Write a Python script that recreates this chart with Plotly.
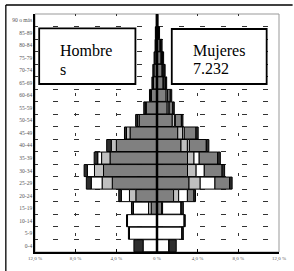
import plotly.graph_objects as go

# ---- data (values in % of total population) ----
ages = ["90 o más", "85-89", "80-84", "75-79", "70-74", "65-69", "60-64", "55-59",
        "50-54", "45-49", "40-44", "35-39", "30-34", "25-29", "20-24", "15-19",
        "10-14", "5-9", "0-4"]

# Hombres (left side), segments from centre outwards
h_s1 = [0.04, 0.10, 0.12, 0.20, 0.30, 0.35, 0.55, 1.05, 1.75, 2.65, 4.00, 4.62, 5.26, 4.40, 2.08, 0.57, 0.00, 0.00, 0.00]
h_s2 = [0.00, 0.00, 0.00, 0.00, 0.00, 0.05, 0.07, 0.10, 0.15, 0.35, 0.50, 0.83, 0.89, 1.00, 0.63, 0.26, 0.00, 0.00, 0.00]
h_s3 = [0.00, 0.00, 0.00, 0.00, 0.00, 0.00, 0.00, 0.00, 0.00, 0.00, 0.00, 0.38, 0.70, 1.07, 0.80, 1.49, 2.90, 2.71, 1.37]
h_s4 = [0.00, 0.00, 0.00, 0.00, 0.00, 0.00, 0.00, 0.00, 0.00, 0.00, 0.00, 0.00, 0.00, 0.00, 0.00, 0.00, 0.00, 0.00, 0.00]
h_s5 = [0.03, 0.06, 0.07, 0.09, 0.11, 0.10, 0.12, 0.15, 0.20, 0.20, 0.45, 0.35, 0.32, 0.48, 0.25, 0.19, 0.10, 0.10, 0.90]

# Mujeres (right side)
m_s1 = [0.05, 0.15, 0.30, 0.40, 0.50, 0.60, 0.90, 1.00, 1.50, 2.04, 2.36, 3.00, 3.00, 3.15, 1.63, 0.45, 0.00, 0.00, 0.00]
m_s2 = [0.00, 0.00, 0.05, 0.05, 0.10, 0.10, 0.15, 0.20, 0.25, 0.48, 0.63, 0.64, 0.85, 1.10, 0.50, 0.10, 0.00, 0.00, 0.00]
m_s3 = [0.00, 0.00, 0.00, 0.00, 0.00, 0.00, 0.00, 0.00, 0.05, 0.16, 0.19, 0.51, 0.80, 1.45, 0.86, 1.82, 2.68, 2.46, 1.18]
m_s4 = [0.00, 0.00, 0.05, 0.10, 0.10, 0.15, 0.25, 0.35, 0.60, 1.15, 1.67, 1.82, 1.75, 1.45, 0.64, 0.00, 0.00, 0.00, 0.00]
m_s5 = [0.05, 0.10, 0.10, 0.10, 0.10, 0.10, 0.15, 0.15, 0.15, 0.22, 0.25, 0.26, 0.25, 0.24, 0.16, 0.22, 0.10, 0.13, 0.71]

x_ticks = [-12, -8, -4, 0, 4, 8, 12]
x_tick_labels = ["12,0 %", "8,0 %", "4,0 %", "0 %", "4,0 %", "8,0 %", "12,0 %"]

label_h = ["Hombre", "s"]
label_m = ["Mujeres", "7.232"]

seg_colors = ["#808080", "#c0c0c0", "#ffffff", "#808080", "#2e2e2e"]
SERIF = "Liberation Serif, Times New Roman, serif"

fig = go.Figure()
for vals, col in zip([h_s1, h_s2, h_s3, h_s4, h_s5], seg_colors):
    fig.add_trace(go.Bar(y=ages, x=[-v for v in vals], orientation="h",
                         marker=dict(color=col, line=dict(color="black", width=1)),
                         showlegend=False, hoverinfo="skip"))
for vals, col in zip([m_s1, m_s2, m_s3, m_s4, m_s5], seg_colors):
    fig.add_trace(go.Bar(y=ages, x=vals, orientation="h",
                         marker=dict(color=col, line=dict(color="black", width=1)),
                         showlegend=False, hoverinfo="skip"))

L, R, T, B = 35, 8, 14, 19
W, H = 294, 271
pw, ph = W - L - R, H - T - B

def px(xp):
    return (xp - L) / pw

def py(yp):
    return (H - B - yp) / ph

fig.update_layout(
    width=W, height=H, autosize=False,
    margin=dict(l=L, r=R, t=T, b=B, pad=0),
    paper_bgcolor="white", plot_bgcolor="white",
    font=dict(family=SERIF),
    barmode="relative", bargap=0.04,
    xaxis=dict(range=[-12, 12], tickvals=x_ticks, ticktext=x_tick_labels,
               showgrid=True, gridcolor="#333", gridwidth=1,
               griddash="1.5px,17px,1.5px,0px",
               zeroline=False, showline=True, linecolor="black", linewidth=1.5,
               ticks="inside", ticklen=3, tickcolor="black", tickwidth=1,
               tickfont=dict(family=SERIF, size=5, color="#555"),
               fixedrange=True),
    yaxis=dict(type="category", categoryorder="array", categoryarray=ages[::-1],
               range=[-0.5, len(ages) - 0.5], tickson="boundaries",
               showgrid=True, gridcolor="#333", gridwidth=1,
               griddash="2.5px,15.917px,2.5px,0px",
               showline=True, linecolor="black", linewidth=1.5, ticks="",
               tickfont=dict(family=SERIF, size=5.5, color="#555"),
               fixedrange=True),
    shapes=[
        dict(type="rect", xref="paper", yref="paper", x0=0, x1=1, y0=0, y1=1,
             line=dict(color="#999", width=1), layer="below"),
        dict(type="line", xref="paper", yref="paper", x0=px(5), x1=px(5), y0=py(5), y1=py(280),
             line=dict(color="black", width=1.3)),
        dict(type="line", xref="paper", yref="paper", x0=px(5), x1=px(300), y0=py(5), y1=py(5),
             line=dict(color="black", width=1.3)),
        dict(type="line", xref="x", yref="paper", x0=0, x1=0, y0=0, y1=1,
             line=dict(color="black", width=2.5), layer="above"),
        dict(type="rect", xref="paper", yref="paper", x0=px(39.3), x1=px(138.3), y0=py(84), y1=py(28.3),
             line=dict(color="black", width=1.8), fillcolor="white", layer="above"),
        dict(type="rect", xref="paper", yref="paper", x0=px(175.7), x1=px(273.3), y0=py(84), y1=py(29),
             line=dict(color="black", width=1.8), fillcolor="white", layer="above"),
    ],
    annotations=[
        dict(text=label_h[0], xref="paper", yref="paper", x=px(59), y=py(50.5), xanchor="left", yanchor="middle",
             showarrow=False, font=dict(family=SERIF, size=16, color="black")),
        dict(text=label_h[1], xref="paper", yref="paper", x=px(59), y=py(69.2), xanchor="left", yanchor="middle",
             showarrow=False, font=dict(family=SERIF, size=16, color="black")),
        dict(text=label_m[0], xref="paper", yref="paper", x=px(195.7), y=py(51.2), xanchor="left", yanchor="middle",
             showarrow=False, font=dict(family=SERIF, size=16, color="black")),
        dict(text=label_m[1], xref="paper", yref="paper", x=px(195.7), y=py(68.5), xanchor="left", yanchor="middle",
             showarrow=False, font=dict(family=SERIF, size=16, color="black")),
    ],
)

fig.write_html("out.html", config={"displayModeBar": False},
               post_script="document.body.style.margin='0';document.body.style.overflow='hidden';")
